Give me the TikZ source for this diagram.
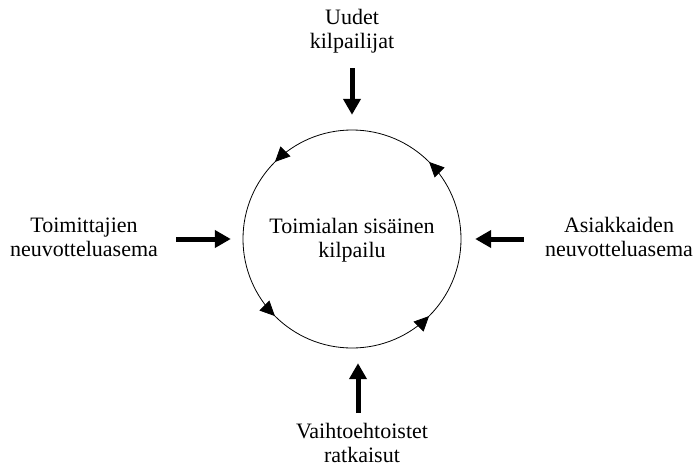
\documentclass[tikz,border=0pt]{standalone}
\usepackage{fontspec}
\setmainfont{Liberation Serif}
\usetikzlibrary{arrows.meta,decorations.markings}
\tikzset{
  lbl/.style={align=center,font=\fontsize{22}{24}\selectfont,inner sep=0pt},
  force/.style={line width=5pt,-{Triangle[length=16pt,width=17pt]}},
  ringtip/.tip={Triangle[length=15pt,width=14pt]},
  ring/.style={line width=0.8pt,postaction={decorate},decoration={markings,
      mark=at position 0.125 with {\arrow{ringtip}},
      mark=at position 0.375 with {\arrow{ringtip}},
      mark=at position 0.625 with {\arrow{ringtip}},
      mark=at position 0.875 with {\arrow{ringtip}}}}
}
\begin{document}
\begin{tikzpicture}[x=1pt,y=-1pt]
  \useasboundingbox (0,0) rectangle (696,468);
  \node[lbl] (kilp) at (352,240) {Toimialan sis\"ainen\\kilpailu};
  \node[circle,minimum size=218pt,inner sep=0pt] (ymp) at (352,239) {};
  \draw[ring] (352,239) ++(109,0) arc[start angle=0,end angle=-360,radius=109];
  \node[lbl] (uudet) at (352,31) {Uudet\\kilpailijat};
  \node[lbl] (toim) at (84,237) {Toimittajien\\neuvotteluasema};
  \node[lbl] (asiak) at (619,237) {Asiakkaiden\\neuvotteluasema};
  \node[lbl] (vaiht) at (362,443) {Vaihtoehtoistet\\ratkaisut};
  \draw[force,shorten <=15pt,shorten >=15pt] (uudet.south) -- (uudet.south |- ymp.north);
  \draw[force,shorten <=18pt,shorten >=12pt] (toim.east |- ymp.west) -- (ymp.west);
  \draw[force,shorten <=21pt,shorten >=14pt] (asiak.west |- ymp.east) -- (ymp.east);
  \draw[force,shorten <=10pt,shorten >=15pt] ([xshift=-4pt]vaiht.north) -- ([xshift=-4pt]vaiht.north |- ymp.south);
\end{tikzpicture}
\end{document}
